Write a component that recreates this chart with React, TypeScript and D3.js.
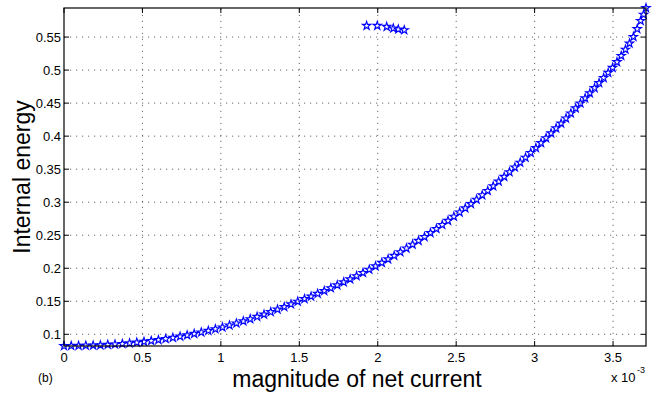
import React from "react";
import * as d3 from "d3";

// magnitude of net current (x 1e-3)
const currentMag: number[] = [
  0.000, 0.046, 0.093, 0.139, 0.186, 0.232, 0.279, 0.325, 0.372, 0.418,
  0.464, 0.510, 0.556, 0.602, 0.648, 0.694, 0.740, 0.785, 0.830, 0.875,
  0.920, 0.965, 1.010, 1.055, 1.099, 1.143, 1.187, 1.231, 1.275, 1.318,
  1.361, 1.404, 1.447, 1.490, 1.533, 1.575, 1.617, 1.659, 1.701, 1.742,
  1.783, 1.824, 1.865, 1.906, 1.946, 1.986, 2.026, 2.066, 2.105, 2.144,
  2.183, 2.222, 2.260, 2.298, 2.336, 2.374, 2.411, 2.448, 2.485, 2.522,
  2.558, 2.594, 2.630, 2.666, 2.701, 2.736, 2.771, 2.806, 2.840, 2.874,
  2.908, 2.942, 2.975, 3.008, 3.041, 3.073, 3.105, 3.137, 3.169, 3.200,
  3.231, 3.262, 3.292, 3.322, 3.352, 3.382, 3.411, 3.440, 3.469, 3.497,
  3.525, 3.552, 3.579, 3.605, 3.630, 3.654, 3.676, 3.695, 3.710,
];

// internal energy
const energy: number[] = [
  0.0823, 0.0825, 0.0827, 0.0829, 0.0832, 0.0836, 0.0842, 0.0848, 0.0856, 0.0865,
  0.0876, 0.0888, 0.0901, 0.0915, 0.0931, 0.0948, 0.0967, 0.0986, 0.1008, 0.1030,
  0.1054, 0.1079, 0.1106, 0.1136, 0.1166, 0.1198, 0.1231, 0.1266, 0.1301, 0.1338,
  0.1376, 0.1415, 0.1455, 0.1496, 0.1536, 0.1574, 0.1615, 0.1657, 0.1700, 0.1743,
  0.1788, 0.1835, 0.1882, 0.1931, 0.1980, 0.2030, 0.2083, 0.2136, 0.2190, 0.2245,
  0.2301, 0.2359, 0.2416, 0.2475, 0.2535, 0.2597, 0.2657, 0.2719, 0.2782, 0.2846,
  0.2909, 0.2974, 0.3040, 0.3107, 0.3172, 0.3243, 0.3314, 0.3385, 0.3456, 0.3528,
  0.3600, 0.3675, 0.3747, 0.3822, 0.3896, 0.3970, 0.4044, 0.4119, 0.4193, 0.4269,
  0.4345, 0.4422, 0.4497, 0.4574, 0.4651, 0.4729, 0.4805, 0.4882, 0.4960, 0.5035,
  0.5122, 0.5216, 0.5311, 0.5404, 0.5504, 0.5623, 0.5746, 0.5840, 0.5940,
];

// detached group of points near the top
const outlierMag: number[] = [1.929, 1.997, 2.057, 2.099, 2.131, 2.169];
const outlierEnergy: number[] = [0.5671, 0.5671, 0.5656, 0.5632, 0.5617, 0.5606];

const xTicks: number[] = [0, 0.5, 1, 1.5, 2, 2.5, 3, 3.5];
const xTickLabels: string[] = ["0", "0.5", "1", "1.5", "2", "2.5", "3", "3.5"];
const yTicks: number[] = [0.1, 0.15, 0.2, 0.25, 0.3, 0.35, 0.4, 0.45, 0.5, 0.55];
const yTickLabels: string[] = ["0.1", "0.15", "0.2", "0.25", "0.3", "0.35", "0.4", "0.45", "0.5", "0.55"];

const W = 662;
const H = 396;
const M = { left: 64, right: 16, top: 8, bottom: 50 };
const FONT = "'Liberation Sans', Arial, Helvetica, sans-serif";

export default function App() {
  const allX = currentMag.concat(outlierMag);
  const allY = energy.concat(outlierEnergy);
  const xExt = d3.extent(allX) as [number, number];
  const yExt = d3.extent(allY) as [number, number];
  const x = d3.scaleLinear().domain(xExt).range([M.left, W - M.right]);
  const y = d3.scaleLinear().domain(yExt).range([H - M.bottom, M.top]);
  const x0 = M.left, x1 = W - M.right, y0 = H - M.bottom, y1 = M.top;
  const star = d3.symbol().type(d3.symbolStar).size(21)() as string;
  const blue = "#0000ff";
  const tickLen = 5;

  return (
    <svg width={W} height={H} style={{ position: "absolute", left: 0, top: 0, background: "#fff" }} fontFamily={FONT}>
      <rect x={0} y={0} width={W} height={H} fill="#fff" />
      {/* grid */}
      <g stroke="#444" strokeWidth={0.8} strokeDasharray="1.2,4.8">
        {xTicks.filter((t) => t > xExt[0]).map((t, i) => (
          <line key={"gx" + i} x1={x(t)} x2={x(t)} y1={y0} y2={y1} />
        ))}
        {yTicks.map((t, i) => (
          <line key={"gy" + i} x1={x0} x2={x1} y1={y(t)} y2={y(t)} />
        ))}
      </g>
      {/* ticks */}
      <g stroke="#000" strokeWidth={1}>
        {xTicks.map((t, i) => (
          <g key={"tx" + i}>
            <line x1={x(t)} x2={x(t)} y1={y0} y2={y0 - tickLen} />
            <line x1={x(t)} x2={x(t)} y1={y1} y2={y1 + tickLen} />
          </g>
        ))}
        {yTicks.map((t, i) => (
          <g key={"ty" + i}>
            <line x1={x0} x2={x0 + tickLen} y1={y(t)} y2={y(t)} />
            <line x1={x1} x2={x1 - tickLen} y1={y(t)} y2={y(t)} />
          </g>
        ))}
      </g>
      {/* data */}
      <g fill="none" stroke={blue} strokeWidth={1.15}>
        {currentMag.map((v, i) => (
          <path key={"p" + i} d={star} transform={`translate(${x(v)},${y(energy[i])})`} />
        ))}
        {outlierMag.map((v, i) => (
          <path key={"o" + i} d={star} transform={`translate(${x(v)},${y(outlierEnergy[i])})`} />
        ))}
      </g>
      {/* box */}
      <rect x={x0} y={y1} width={x1 - x0} height={y0 - y1} fill="none" stroke="#000" strokeWidth={1.2} />
      {/* tick labels */}
      <g fontSize={13} fill="#000">
        {xTicks.map((t, i) => (
          <text key={"lx" + i} x={x(t)} y={y0 + 16} textAnchor="middle">{xTickLabels[i]}</text>
        ))}
        {yTicks.map((t, i) => (
          <text key={"ly" + i} x={x0 - 3} y={y(t)} dy="0.35em" textAnchor="end">{yTickLabels[i]}</text>
        ))}
      </g>
      {/* exponent */}
      <text x={611} y={382} fontSize={13} fill="#000">x 10</text>
      <text x={637} y={373} fontSize={9} fill="#000">-3</text>
      {/* labels */}
      <text x={(x0 + x1) / 2 + 2} y={387} fontSize={23} textAnchor="middle" fill="#000">magnitude of net current</text>
      <text transform={`translate(29.5,${(y0 + y1) / 2}) rotate(-90)`} fontSize={23} textAnchor="middle" fill="#000">Internal energy</text>
      <text x={38} y={382} fontSize={12} fill="#000">(b)</text>
    </svg>
  );
}
